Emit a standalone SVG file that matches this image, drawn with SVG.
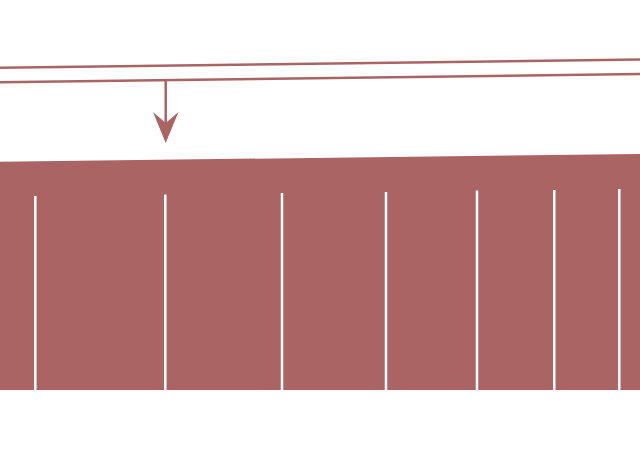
<svg xmlns="http://www.w3.org/2000/svg" width="640" height="450" viewBox="0 0 640 450">
<defs>
<style>
.edge{stroke:#aa6464;stroke-width:2.5;fill:none}
.sep{stroke:#ffffff;stroke-width:2.5}
.fill{fill:#aa6464}
</style>
<marker id="arr" viewBox="0 0 26 31" refX="13" refY="30" markerWidth="26" markerHeight="31" markerUnits="userSpaceOnUse" orient="auto-start-reverse">
<path d="M0,0 L13,11 L26,0 L13,31 Z" fill="#aa6464"/>
</marker>
</defs>
<rect width="640" height="450" fill="#ffffff"/>
<g id="connectors">
<line class="edge" x1="0" y1="67.7" x2="640" y2="59.5"/>
<line class="edge" x1="0" y1="82.3" x2="640" y2="74"/>
<line class="edge" x1="165.7" y1="80.2" x2="165.7" y2="135"/>
<path d="M153,112 L165.7,123 L178.5,112 L165.7,143 Z" fill="#aa6464"/>
</g>
<g id="band">
<polygon class="fill" points="0,161.7 640,154 640,390 0,390"/>
<line class="sep" x1="35.3" y1="196" x2="35.3" y2="390"/>
<line class="sep" x1="165.3" y1="194.5" x2="165.3" y2="390"/>
<line class="sep" x1="282" y1="193" x2="282" y2="390"/>
<line class="sep" x1="386" y1="192" x2="386" y2="390"/>
<line class="sep" x1="477" y1="190.5" x2="477" y2="390"/>
<line class="sep" x1="554.3" y1="190" x2="554.3" y2="390"/>
<line class="sep" x1="619.3" y1="189" x2="619.3" y2="390"/>
</g>
</svg>
